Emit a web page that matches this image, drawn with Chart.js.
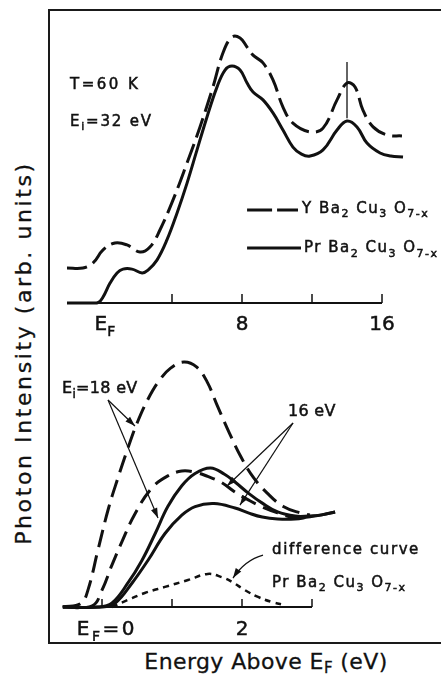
<!DOCTYPE html>
<html>
<head>
<meta charset="utf-8">
<script src="https://cdn.jsdelivr.net/npm/chart.js@4.4.1/dist/chart.umd.min.js"></script>
<style>
  body { margin: 0; width: 441px; height: 679px; overflow: hidden; position: relative; background: #fff; color: #111; font-family: "DejaVu Sans", sans-serif; }
  #frame { position: absolute; left: 48px; top: 9px; width: 420px; height: 631px; border: 2px solid #1a1a1a; }
  canvas { position: absolute; }
  #topChart { left: 50px; top: 11px; }
  #botChart { left: 50px; top: 340px; }
  .title { position: absolute; white-space: nowrap; font-size: 22px; line-height: 22px; -webkit-text-stroke: 0.3px #111; }
  .title sub { font-size: 15px; vertical-align: -4px; line-height: 0; }
  #yTitle { left: 24px; top: 353px; transform: translate(-50%, -50%) rotate(-90deg); letter-spacing: 2.6px; }
  #xTitle { left: 266px; top: 651px; transform: translateX(-50%); letter-spacing: 0.4px; }
</style>
</head>
<body>
<div id="frame"></div>
<canvas id="topChart" width="391" height="329"></canvas>
<canvas id="botChart" width="391" height="301"></canvas>
<div class="title" id="yTitle">Photon Intensity (arb. units)</div>
<div class="title" id="xTitle">Energy Above E<sub>F</sub> (eV)</div>
<script>
// ---- upper panel: E_i = 32 eV valence band, energy in eV, intensity in arb. units
const ybcoTopE = [-2.0, -1.09, -0.51, 0.06, 0.74, 1.43, 2.17, 2.74, 3.31, 4.06, 4.86, 5.6, 6.34, 6.91, 7.43, 7.89, 8.29, 8.63, 9.2, 9.77, 10.34, 10.91, 11.89, 12.63, 13.43, 14.0, 14.46, 14.91, 15.49, 16.29, 17.14];
const ybcoTopI = [14.8, 14.8, 16.9, 22.4, 25.3, 24.5, 21.5, 23.6, 30.8, 43.5, 59.1, 74.3, 91.1, 105.5, 112.2, 111.8, 108, 104.6, 101.3, 94.1, 82.7, 75.9, 72.2, 73.8, 85.7, 92.8, 91.1, 81.4, 74.3, 70.9, 70.5];
const prTopE = [-2.0, -0.6, -0.2, 0.06, 0.46, 0.86, 1.2, 1.71, 2.29, 2.63, 3.14, 3.71, 4.29, 4.86, 5.43, 6.0, 6.57, 7.03, 7.43, 7.89, 8.29, 8.63, 9.2, 9.77, 10.34, 10.91, 11.4, 11.89, 12.63, 13.43, 14.0, 14.57, 15.14, 15.89, 16.5, 17.2];
const prTopI = [0, 0, 0.3, 2.5, 8.4, 12.7, 14.3, 14.3, 12.7, 13.9, 18.1, 26.6, 38.0, 50.6, 64.6, 78.5, 91.1, 98.3, 100, 98.3, 92.8, 89.0, 85.7, 80.2, 73.0, 65.8, 62.8, 62.0, 64.6, 73.0, 76.8, 74.3, 67.5, 63.3, 62.0, 61.6];
const topTicks = [4, 8, 12, 16];
const topAxisRange = [-2, 16];
const topTickLabels = [[0.17, 'E_{F}'], [8, '8'], [16, '16']];
const peakMarkerE = 14.0;
const peakMarkerI = [78, 101.7];

// ---- lower panel: near E_F, E_i = 18 eV and 16 eV
const ybco18E = [-0.56, -0.3, -0.2, -0.06, 0.09, 0.22, 0.36, 0.5, 0.66, 0.82, 0.98, 1.17, 1.35, 1.5, 1.65, 1.82, 1.99, 2.16, 2.36, 2.59, 2.83, 2.97];
const ybco18I = [0, 1.5, 7, 23, 40, 52, 64, 75, 85, 92.5, 97.5, 100, 98, 92, 82, 71, 61, 53, 46.5, 41, 38.4, 37.6];
const ybco16E = [-0.56, -0.14, 0, 0.14, 0.29, 0.47, 0.71, 0.94, 1.14, 1.33, 1.51, 1.71, 1.9, 2.09, 2.29, 2.51, 2.76, 2.9];
const ybco16I = [0, 0.5, 6.9, 17, 27, 38, 48.5, 53.5, 55.5, 55, 53.3, 50.8, 46.9, 43.7, 40.8, 38.4, 36.3, 36.3];
const pr18E = [-0.56, -0.06, 0.14, 0.37, 0.57, 0.76, 0.94, 1.14, 1.33, 1.55, 1.75, 1.9, 2.09, 2.29, 2.51, 2.76, 2.94, 3.14, 3.33];
const pr18I = [0, 0, 1.6, 9.8, 19, 30, 41, 49.5, 54.5, 56.7, 54.2, 51.0, 46.5, 42.4, 38.8, 37.1, 37.1, 37.6, 38.8];
const pr16E = [-0.56, 0, 0.19, 0.43, 0.66, 0.9, 1.14, 1.33, 1.6, 1.9, 2.09, 2.29, 2.51, 2.76, 2.94, 3.14, 3.33];
const pr16I = [0, 0, 1.6, 9.8, 19.2, 30, 37.5, 41, 42.2, 40.4, 38.4, 36.7, 35.9, 35.9, 36.7, 37.6, 38.8];
const diffE = [0.14, 0.37, 0.61, 0.9, 1.23, 1.51, 1.71, 1.86, 2.04, 2.23, 2.43, 2.61];
const diffI = [0, 2.9, 5.7, 8.2, 11.0, 13.5, 12.2, 10.2, 6.9, 4.1, 2.0, 0.8];
const botTicks = [0, 1, 2, 3];
const botAxisRange = [-0.56, 3];
const botTickLabels = [[-0.36, 'E_{F}=0', 'left', 2.5], [2, '2']];

const ink = '#111';

function points(xs, ys) {
  return xs.map((x, i) => ({ x: x, y: ys[i] }));
}

// "Ba_{2}" -> ['Ba', {sub: '2'}]
function parseRich(str) {
  const parts = [];
  const re = /_\{([^}]*)\}/g;
  let last = 0, m;
  while ((m = re.exec(str)) !== null) {
    if (m.index > last) parts.push(str.slice(last, m.index));
    parts.push({ sub: m[1] });
    last = re.lastIndex;
  }
  if (last < str.length) parts.push(str.slice(last));
  return parts;
}

function richText(ctx, str, x, y, size, spacing, align) {
  const parts = parseRich(str);
  ctx.save();
  ctx.fillStyle = ink;
  ctx.strokeStyle = ink;
  ctx.lineWidth = 0.5;
  ctx.textAlign = 'left';
  ctx.textBaseline = 'alphabetic';
  ctx.letterSpacing = (spacing || 0) + 'px';
  const fontOf = p => (typeof p === 'string' ? size : Math.round(size * 0.72)) + 'px "DejaVu Sans"';
  let w = 0;
  parts.forEach(p => { ctx.font = fontOf(p); w += ctx.measureText(typeof p === 'string' ? p : p.sub).width; });
  let cx = align === 'center' ? x - w / 2 : x;
  parts.forEach(p => {
    const s = typeof p === 'string' ? p : p.sub;
    const ty = typeof p === 'string' ? y : y + size * 0.3;
    ctx.font = fontOf(p);
    ctx.fillText(s, cx, ty);
    ctx.strokeText(s, cx, ty);
    cx += ctx.measureText(s).width;
  });
  ctx.restore();
}

function arrow(ctx, x0, y0, x1, y1, cx, cy) {
  ctx.save();
  ctx.strokeStyle = ink;
  ctx.fillStyle = ink;
  ctx.lineWidth = 1.2;
  ctx.beginPath();
  ctx.moveTo(x0, y0);
  if (cx !== undefined) ctx.quadraticCurveTo(cx, cy, x1, y1);
  else ctx.lineTo(x1, y1);
  ctx.stroke();
  const fx = cx !== undefined ? cx : x0, fy = cy !== undefined ? cy : y0;
  const a = Math.atan2(y1 - fy, x1 - fx);
  const len = 10, half = 3.3;
  ctx.beginPath();
  ctx.moveTo(x1, y1);
  ctx.lineTo(x1 - len * Math.cos(a) + half * Math.sin(a), y1 - len * Math.sin(a) - half * Math.cos(a));
  ctx.lineTo(x1 - len * Math.cos(a) - half * Math.sin(a), y1 - len * Math.sin(a) + half * Math.cos(a));
  ctx.closePath();
  ctx.fill();
  ctx.restore();
}

function drawAxis(chart, range, ticks, labels, tickLen, labelDrop) {
  const { ctx, scales: { x, y } } = chart;
  const y0 = y.getPixelForValue(0);
  ctx.save();
  ctx.strokeStyle = ink;
  ctx.lineWidth = 2;
  ctx.beginPath();
  ctx.moveTo(x.getPixelForValue(range[0]), y0);
  ctx.lineTo(x.getPixelForValue(range[1]), y0);
  ctx.stroke();
  ctx.lineWidth = 1.5;
  ticks.forEach(t => {
    const px = x.getPixelForValue(t);
    ctx.beginPath();
    ctx.moveTo(px, y0);
    ctx.lineTo(px, y0 - tickLen);
    ctx.stroke();
  });
  ctx.restore();
  labels.forEach(l => richText(ctx, l[1], x.getPixelForValue(l[0]), y0 + labelDrop, 20, l[3] || 0, l[2] || 'center'));
}

function lineSet(xs, ys, dash, width) {
  return {
    data: points(xs, ys),
    borderColor: ink,
    borderWidth: width || 3,
    borderDash: dash || [],
    pointRadius: 0,
    fill: false,
    tension: 0.4
  };
}

function baseOptions(xmin, xmax, ymin, ymax) {
  return {
    responsive: false,
    animation: false,
    layout: { padding: 0 },
    plugins: { legend: { display: false }, tooltip: { enabled: false } },
    scales: {
      x: { type: 'linear', min: xmin, max: xmax, display: false },
      y: { type: 'linear', min: ymin, max: ymax, display: false }
    }
  };
}

// upper panel
new Chart(document.getElementById('topChart'), {
  type: 'line',
  data: {
    datasets: [
      lineSet(ybcoTopE, ybcoTopI, [20, 7]),
      lineSet(prTopE, prTopI)
    ]
  },
  options: baseOptions(-2.971, 19.371, -15.61, 123.21),
  plugins: [{
    id: 'topDecor',
    afterDatasetsDraw(chart) {
      const { ctx, scales: { x, y } } = chart;
      drawAxis(chart, topAxisRange, topTicks, topTickLabels, 9, 27);

      // marker through the 14 eV peak
      ctx.save();
      ctx.strokeStyle = ink;
      ctx.lineWidth = 1.3;
      ctx.beginPath();
      ctx.moveTo(x.getPixelForValue(peakMarkerE), y.getPixelForValue(peakMarkerI[0]));
      ctx.lineTo(x.getPixelForValue(peakMarkerE), y.getPixelForValue(peakMarkerI[1]));
      ctx.stroke();

      // key
      ctx.lineWidth = 3;
      ctx.setLineDash([25, 5]);
      ctx.beginPath();
      ctx.moveTo(x.getPixelForValue(8.29), y.getPixelForValue(39.2));
      ctx.lineTo(x.getPixelForValue(11.2), y.getPixelForValue(39.2));
      ctx.stroke();
      ctx.setLineDash([]);
      ctx.beginPath();
      ctx.moveTo(x.getPixelForValue(8.29), y.getPixelForValue(23.2));
      ctx.lineTo(x.getPixelForValue(11.37), y.getPixelForValue(23.2));
      ctx.stroke();
      ctx.restore();
      richText(ctx, 'Y Ba_{2} Cu_{3} O_{7-x}', x.getPixelForValue(11.43), y.getPixelForValue(38.0), 15, 1.5);
      richText(ctx, 'Pr Ba_{2} Cu_{3} O_{7-x}', x.getPixelForValue(11.54), y.getPixelForValue(21.5), 15, 1.5);

      richText(ctx, 'T=60 K', x.getPixelForValue(-1.83), y.getPixelForValue(90.3), 15, 2.5);
      richText(ctx, 'E_{i}=32 eV', x.getPixelForValue(-1.83), y.getPixelForValue(74.7), 15, 1.8);
    }
  }]
});

// lower panel
new Chart(document.getElementById('botChart'), {
  type: 'line',
  data: {
    datasets: [
      lineSet(ybco18E, ybco18I, [18, 8]),
      lineSet(ybco16E, ybco16I, [16, 8]),
      lineSet(pr18E, pr18I),
      lineSet(pr16E, pr16I),
      lineSet(diffE, diffI, [6, 5], 2.5)
    ]
  },
  options: baseOptions(-0.743, 4.843, -13.88, 108.98),
  plugins: [{
    id: 'botDecor',
    afterDatasetsDraw(chart) {
      const { ctx, scales: { x, y } } = chart;
      const px = v => x.getPixelForValue(v), py = v => y.getPixelForValue(v);
      drawAxis(chart, botAxisRange, botTicks, botTickLabels, 8, 28);

      richText(ctx, 'E_{i}=18 eV', px(-0.571), py(87.3), 16, 0.3);
      arrow(ctx, px(0.086), py(84.5), px(0.471), py(73.9));
      arrow(ctx, px(0.086), py(84.5), px(0.8), py(36.3));

      richText(ctx, '16 eV', px(2.657), py(78), 16, 0.3);
      arrow(ctx, px(2.729), py(75.1), px(1.786), py(49.4));
      arrow(ctx, px(2.729), py(75.1), px(1.971), py(41.6));

      richText(ctx, 'difference curve', px(2.429), py(21.6), 15, 1.6);
      richText(ctx, 'Pr Ba_{2} Cu_{3} O_{7-x}', px(2.429), py(8.2), 15, 1.5);
      arrow(ctx, px(2.3), py(21.2), px(1.871), py(11.8), px(2.043), py(19.2));
    }
  }]
});
</script>
</body>
</html>
